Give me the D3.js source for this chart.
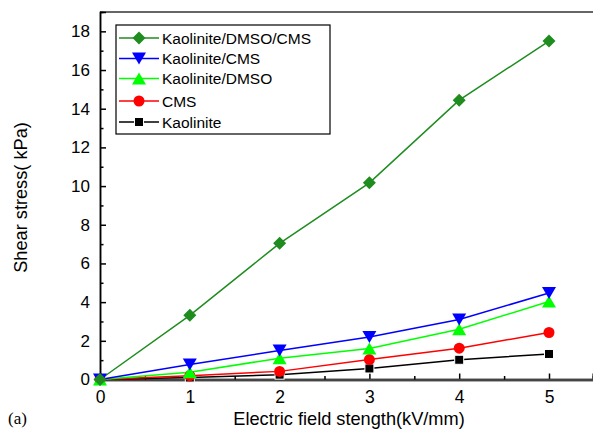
<!DOCTYPE html>
<html><head><meta charset="utf-8">
<script src="https://cdn.jsdelivr.net/npm/d3@7"></script>
<style>body{margin:0;background:#fff}svg{display:block;font-family:"Liberation Sans",Arial,sans-serif}</style>
</head><body>
<script>
const xValues = [0, 1, 2, 3, 4, 5];
const seriesNames = ["Kaolinite/DMSO/CMS", "Kaolinite/CMS", "Kaolinite/DMSO", "CMS", "Kaolinite"];
const kdcValues = [0, 3.32, 7.04, 10.17, 14.44, 17.5];
const kcValues = [0, 0.78, 1.5, 2.2, 3.1, 4.47];
const kdValues = [0, 0.38, 1.1, 1.6, 2.6, 4.03];
const cmsValues = [0, 0.2, 0.42, 1.03, 1.62, 2.43];
const kaoValues = [0, 0.1, 0.25, 0.57, 1.02, 1.32];
const xTicks = [0, 1, 2, 3, 4, 5];
const yTicks = [0, 2, 4, 6, 8, 10, 12, 14, 16, 18];

const series = [
  {name: seriesNames[0], values: kdcValues, color: "#1f8c1f", marker: "diamond"},
  {name: seriesNames[1], values: kcValues, color: "#0000ff", marker: "triDown"},
  {name: seriesNames[2], values: kdValues, color: "#00ff00", marker: "triUp"},
  {name: seriesNames[3], values: cmsValues, color: "#ff0000", marker: "circle"},
  {name: seriesNames[4], values: kaoValues, color: "#000000", marker: "square"}
];

const W = 593, H = 430;
const m = {left: 100, right: 0, top: 12, bottom: 50.5};
const svg = d3.select("body").append("svg").attr("width", W).attr("height", H);
const x = d3.scaleLinear().domain([0, 5.49]).range([m.left, W - m.right]);
const y = d3.scaleLinear().domain([0, 19]).range([H - m.bottom, m.top]);

const axisColor = "#333";
svg.append("line").attr("x1", m.left).attr("x2", W).attr("y1", m.top).attr("y2", m.top).attr("stroke", axisColor).attr("stroke-width", 1.5);

// x axis
const gx = svg.append("g").attr("transform", `translate(0,${y(0)})`);
gx.call(d3.axisBottom(x).tickValues(xTicks).tickSize(-6).tickPadding(11).tickFormat(d3.format("d")));
gx.append("g").call(d3.axisBottom(x).tickValues([0.5,1.5,2.5,3.5,4.5]).tickSize(-3.5).tickFormat(""));
gx.selectAll(".domain").attr("stroke", "#444").attr("stroke-width", 2.5);
gx.selectAll(".tick line").attr("stroke", "#000").attr("stroke-width", 1.5);
gx.selectAll("text").attr("font-size", 17.5).attr("fill", "#000");

// y axis
const gy = svg.append("g").attr("transform", `translate(${m.left},0)`);
gy.call(d3.axisLeft(y).tickValues(yTicks).tickSize(-6).tickPadding(10).tickFormat(d3.format("d")));
gy.append("g").call(d3.axisLeft(y).tickValues(d3.range(1, 19, 2)).tickSize(-3.5).tickFormat(""));
gy.selectAll(".domain").attr("stroke", "#000").attr("stroke-width", 1.5);
gy.selectAll(".tick line").attr("stroke", "#000").attr("stroke-width", 1.5);
gy.selectAll("text").attr("font-size", 17).attr("fill", "#000");
gx.raise();

// titles
svg.append("text").attr("x", 349).attr("y", 425).attr("text-anchor", "middle").attr("font-size", 18.2).text("Electric field stength(kV/mm)");
svg.append("text").attr("transform", `translate(27,197.5) rotate(-90)`).attr("text-anchor", "middle").attr("font-size", 18.2).text("Shear stress( kPa)");
svg.append("text").attr("x", 8).attr("y", 424).attr("font-size", 17).attr("font-family", "'Liberation Serif', 'Times New Roman', serif").text("(a)");

function drawMarker(g, type, color) {
  if (type === "diamond") g.append("path").attr("d", "M0,-6.5L6.5,0L0,6.5L-6.5,0Z").attr("fill", color);
  else if (type === "triDown") g.append("path").attr("d", "M-7,-6L7,-6L0,6Z").attr("fill", color);
  else if (type === "triUp") g.append("path").attr("d", "M-7,6L7,6L0,-6Z").attr("fill", color);
  else if (type === "circle") g.append("circle").attr("r", 5.5).attr("fill", color);
  else if (type === "square") g.append("rect").attr("x", -4.5).attr("y", -4.5).attr("width", 9).attr("height", 9).attr("fill", color).attr("stroke", "#fff").attr("stroke-width", 1);
}

const line = d3.line().x((d, i) => x(xValues[i])).y(d => y(d));
const drawOrder = [4, 3, 2, 1, 0];
drawOrder.forEach(k => {
  const s = series[k];
  svg.append("path").datum(s.values).attr("d", line).attr("fill", "none").attr("stroke", s.color).attr("stroke-width", 1.5);
});
drawOrder.forEach(k => {
  const s = series[k];
  s.values.forEach((v, i) => {
    const g = svg.append("g").attr("transform", `translate(${x(xValues[i])},${y(v)})`);
    drawMarker(g, s.marker, s.color);
  });
});

// legend
const lg = svg.append("g");
lg.append("rect").attr("x", 116).attr("y", 25).attr("width", 214).attr("height", 109).attr("fill", "#fff").attr("stroke", "#000").attr("stroke-width", 1.2);
const ly = [38, 58.5, 78.5, 101, 122];
series.forEach((s, i) => {
  lg.append("line").attr("x1", 119).attr("x2", 159).attr("y1", ly[i]).attr("y2", ly[i]).attr("stroke", s.color).attr("stroke-width", 1.5);
  const g = lg.append("g").attr("transform", `translate(139,${ly[i]})`);
  drawMarker(g, s.marker, s.color);
  lg.append("text").attr("x", 162).attr("y", ly[i] + 5.5).attr("font-size", 15.5).text(s.name);
});
</script>
</body></html>
